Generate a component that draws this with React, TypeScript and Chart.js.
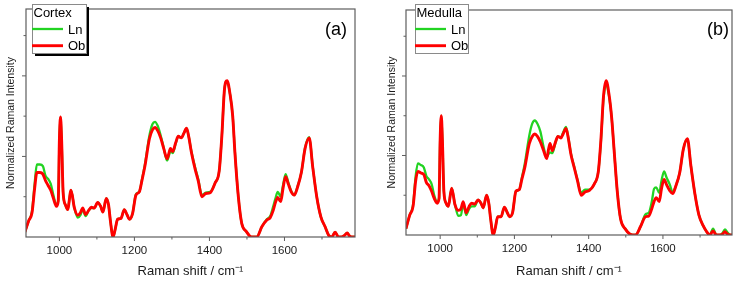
import React, { useEffect, useRef } from "react";
import { Chart, registerables } from "chart.js";

Chart.register(...registerables);

// Raman shift positions (cm^-1) shared by every spectrum
const shift = [
  908, 918, 927, 934, 940, 948, 956, 963, 970, 977,
  984, 992, 997, 1000, 1003, 1006, 1010, 1016, 1022, 1031,
  1040, 1049, 1056, 1062, 1070, 1078, 1085, 1093, 1102, 1110,
  1116, 1125, 1131, 1136, 1143, 1149, 1155, 1164, 1173, 1180,
  1187, 1195, 1204, 1213, 1220, 1228, 1240, 1248, 1255, 1262,
  1270, 1278, 1287, 1292, 1296, 1302, 1310, 1317, 1325, 1332,
  1339, 1345, 1352, 1362, 1370, 1380, 1390, 1402, 1415, 1426,
  1433, 1440, 1447, 1455, 1462, 1468, 1477, 1486, 1498, 1512,
  1526, 1540, 1553, 1562, 1570, 1576, 1582, 1590, 1596, 1603,
  1610, 1618, 1626, 1635, 1645, 1655, 1666, 1675, 1686, 1697,
  1708, 1718, 1726, 1735, 1744, 1752, 1760, 1767, 1774, 1782,
  1790,
];

const cortexLn = [
  0.06, 0.20, 0.32, 0.66, 0.90, 0.90, 0.88, 0.76, 0.72, 0.66,
  0.52, 0.40, 0.45, 1.20, 1.49, 1.20, 0.55, 0.40, 0.34, 0.58,
  0.36, 0.24, 0.27, 0.34, 0.26, 0.33, 0.36, 0.36, 0.43, 0.38,
  0.31, 0.48, 0.40, 0.20, 0.00, 0.10, 0.22, 0.23, 0.34, 0.28,
  0.22, 0.29, 0.53, 0.56, 0.71, 0.90, 1.26, 1.40, 1.43, 1.38,
  1.26, 1.11, 0.95, 1.01, 1.07, 1.04, 1.16, 1.25, 1.23, 1.29,
  1.35, 1.24, 1.06, 0.86, 0.72, 0.52, 0.55, 0.56, 0.67, 0.82,
  1.25, 1.83, 1.93, 1.77, 1.50, 1.05, 0.50, 0.17, 0.07, 0.00,
  0.00, 0.13, 0.22, 0.26, 0.38, 0.48, 0.56, 0.50, 0.64, 0.78,
  0.68, 0.57, 0.52, 0.63, 0.80, 1.11, 1.24, 0.89, 0.50, 0.25,
  0.13, 0.02, 0.00, 0.06, 0.00, 0.00, 0.02, 0.05, 0.01, 0.00,
  0.00,
];

const cortexOb = [
  0.06, 0.20, 0.30, 0.60, 0.80, 0.80, 0.78, 0.70, 0.64, 0.58,
  0.48, 0.38, 0.45, 1.20, 1.49, 1.20, 0.55, 0.40, 0.34, 0.58,
  0.36, 0.27, 0.30, 0.36, 0.28, 0.33, 0.37, 0.36, 0.43, 0.38,
  0.31, 0.48, 0.40, 0.20, 0.00, 0.10, 0.22, 0.23, 0.34, 0.28,
  0.22, 0.29, 0.52, 0.56, 0.70, 0.88, 1.22, 1.33, 1.36, 1.32,
  1.23, 1.10, 0.97, 1.04, 1.10, 1.06, 1.17, 1.25, 1.23, 1.29,
  1.35, 1.24, 1.05, 0.84, 0.70, 0.50, 0.54, 0.55, 0.67, 0.82,
  1.25, 1.83, 1.94, 1.77, 1.50, 1.04, 0.50, 0.17, 0.07, 0.00,
  0.00, 0.13, 0.21, 0.24, 0.33, 0.43, 0.49, 0.44, 0.60, 0.75,
  0.66, 0.56, 0.52, 0.62, 0.80, 1.10, 1.23, 0.88, 0.50, 0.25,
  0.13, 0.02, 0.00, 0.06, 0.00, 0.00, 0.02, 0.05, 0.01, 0.00,
  0.00,
];

const medullaLn = [
  0.08, 0.25, 0.38, 0.74, 0.90, 0.88, 0.85, 0.74, 0.70, 0.64,
  0.50, 0.42, 0.46, 1.20, 1.50, 1.20, 0.55, 0.40, 0.36, 0.59,
  0.38, 0.24, 0.25, 0.40, 0.25, 0.33, 0.36, 0.36, 0.44, 0.40,
  0.34, 0.50, 0.40, 0.20, 0.00, 0.10, 0.23, 0.23, 0.35, 0.29,
  0.23, 0.28, 0.55, 0.57, 0.72, 0.90, 1.25, 1.40, 1.44, 1.40,
  1.30, 1.12, 0.98, 1.02, 1.04, 1.03, 1.15, 1.24, 1.23, 1.30,
  1.36, 1.23, 1.03, 0.84, 0.69, 0.53, 0.57, 0.57, 0.64, 0.80,
  1.18, 1.72, 1.89, 1.74, 1.47, 1.10, 0.55, 0.20, 0.08, 0.01,
  0.00, 0.11, 0.26, 0.28, 0.42, 0.58, 0.60, 0.53, 0.68, 0.80,
  0.72, 0.64, 0.54, 0.62, 0.78, 1.08, 1.21, 0.88, 0.52, 0.25,
  0.12, 0.04, 0.00, 0.08, 0.00, 0.00, 0.02, 0.07, 0.03, 0.00,
  0.00,
];

const medullaOb = [
  0.08, 0.25, 0.36, 0.68, 0.80, 0.78, 0.76, 0.66, 0.62, 0.55,
  0.46, 0.40, 0.46, 1.20, 1.50, 1.20, 0.55, 0.40, 0.36, 0.59,
  0.38, 0.31, 0.33, 0.42, 0.28, 0.36, 0.40, 0.39, 0.44, 0.40,
  0.34, 0.50, 0.40, 0.20, 0.00, 0.10, 0.23, 0.23, 0.35, 0.29,
  0.23, 0.28, 0.55, 0.57, 0.70, 0.85, 1.15, 1.24, 1.27, 1.24,
  1.17, 1.07, 0.96, 1.08, 1.15, 1.06, 1.16, 1.24, 1.22, 1.28,
  1.34, 1.22, 1.02, 0.83, 0.68, 0.50, 0.54, 0.56, 0.64, 0.80,
  1.20, 1.75, 1.94, 1.76, 1.47, 1.10, 0.55, 0.20, 0.08, 0.01,
  0.00, 0.11, 0.23, 0.24, 0.33, 0.42, 0.47, 0.42, 0.58, 0.70,
  0.63, 0.56, 0.52, 0.62, 0.78, 1.08, 1.21, 0.88, 0.52, 0.25,
  0.12, 0.04, 0.00, 0.05, 0.00, 0.00, 0.01, 0.04, 0.01, 0.00,
  0.00,
];

const seriesNames = ["Ln", "Ob"];
const xLabelTicks = [1000, 1200, 1400, 1600];
const xMinorTicks = [1100, 1300, 1500, 1700];
const yMajorTicks = [1, 2];
const yMinorTicks = [0.5, 1.5, 2.5];
const Y_MAX = 2.83;

const FONT = "'Liberation Sans', Arial, Helvetica, sans-serif";
const GREEN = "#22d322";
const RED = "#ff0000";
const FRAME = "#5e5e5e";
const TEXT = "#1a1a1a";

// Draws the boxed frame, outward minor/major ticks, inset legend and panel tag
const panelDecor = {
  id: "panelDecor",
  afterDraw(chart: any, _args: any, opts: any) {
    const { ctx, chartArea: a, scales } = chart;
    const xs = scales.x;
    const ys = scales.y;
    ctx.save();

    ctx.strokeStyle = FRAME;
    ctx.lineWidth = 1.2;
    ctx.strokeRect(a.left, a.top, a.right - a.left, a.bottom - a.top);

    const seg = (x1: number, y1: number, x2: number, y2: number) => {
      ctx.beginPath();
      ctx.moveTo(x1, y1);
      ctx.lineTo(x2, y2);
      ctx.stroke();
    };
    ctx.lineWidth = 1;
    xLabelTicks.forEach((v) => {
      const p = xs.getPixelForValue(v);
      seg(p, a.bottom, p, a.bottom + 4);
    });
    xMinorTicks.forEach((v) => {
      const p = xs.getPixelForValue(v);
      seg(p, a.bottom, p, a.bottom + 2.5);
    });
    yMajorTicks.forEach((v) => {
      const p = ys.getPixelForValue(v);
      seg(a.left, p, a.left - 4, p);
    });
    yMinorTicks.forEach((v) => {
      const p = ys.getPixelForValue(v);
      seg(a.left, p, a.left - 2.5, p);
    });

    // inset legend
    const { bx, by, bw, bh, shadow, title, tag, tagX } = opts;
    if (shadow) {
      ctx.fillStyle = "#000";
      ctx.fillRect(bx + 3, by + 3, bw, bh);
    }
    ctx.fillStyle = "#fff";
    ctx.fillRect(bx, by, bw, bh);
    ctx.strokeStyle = "#8a8a8a";
    ctx.lineWidth = 1;
    ctx.strokeRect(bx + 0.5, by + 0.5, bw, bh);

    ctx.fillStyle = "#000";
    ctx.font = `13px ${FONT}`;
    ctx.textAlign = "left";
    ctx.textBaseline = "alphabetic";
    ctx.fillText(title, bx + 1.5, by + 13);

    [0, 1].forEach((i) => {
      const ds = chart.data.datasets[i];
      const ly = by + 25 + i * 16.7;
      ctx.strokeStyle = ds.borderColor;
      ctx.lineWidth = ds.borderWidth;
      seg(bx, ly, bx + 31, ly);
      ctx.fillStyle = "#000";
      ctx.fillText(ds.label, bx + 36, ly + 4.5);
    });

    ctx.font = `18px ${FONT}`;
    ctx.fillStyle = "#000";
    ctx.fillText(tag, tagX, 35);
    ctx.restore();
  },
};

type PanelProps = {
  ln: number[];
  ob: number[];
  xMin: number;
  xMax: number;
  yAxisWidth: number;
  yTitlePad: number;
  pad: { top: number; right: number };
  xAxisHeight: number;
  legend: any;
};

function Panel(props: PanelProps) {
  const ref = useRef<HTMLCanvasElement | null>(null);

  useEffect(() => {
    if (!ref.current) return;
    const { ln, ob, xMin, xMax, yAxisWidth, yTitlePad, pad, xAxisHeight, legend } = props;
    const chart = new Chart(ref.current, {
      type: "line",
      data: {
        datasets: [
          {
            label: seriesNames[0],
            data: shift.map((x, i) => ({ x, y: ln[i] })),
            borderColor: GREEN,
            borderWidth: 2.3,
            pointRadius: 0,
            cubicInterpolationMode: "monotone",
            order: 2,
          },
          {
            label: seriesNames[1],
            data: shift.map((x, i) => ({ x, y: ob[i] })),
            borderColor: RED,
            borderWidth: 2.9,
            pointRadius: 0,
            cubicInterpolationMode: "monotone",
            order: 1,
          },
        ],
      },
      options: {
        animation: false,
        responsive: true,
        maintainAspectRatio: false,
        layout: { padding: { left: 0, top: pad.top, right: pad.right, bottom: 0 } },
        plugins: {
          legend: { display: false },
          tooltip: { enabled: false },
          panelDecor: legend,
        } as any,
        scales: {
          x: {
            type: "linear",
            min: xMin,
            max: xMax,
            grid: { display: false, drawTicks: false },
            border: { display: false },
            afterBuildTicks: (s: any) => {
              s.ticks = xLabelTicks.map((value) => ({ value }));
            },
            afterFit: (s: any) => {
              s.height = xAxisHeight;
            },
            ticks: {
              padding: 7,
              color: TEXT,
              font: { family: FONT, size: 11.5 },
              maxRotation: 0,
              callback: (v: any) => String(v),
            },
            title: {
              display: true,
              text: "Raman shift / cm\u207B\u00B9",
              color: TEXT,
              font: { family: FONT, size: 13 },
              padding: { top: 0, bottom: 3 },
            },
          },
          y: {
            type: "linear",
            min: 0,
            max: Y_MAX,
            grid: { display: false, drawTicks: false },
            border: { display: false },
            ticks: { display: false },
            afterFit: (s: any) => {
              s.width = yAxisWidth;
            },
            title: {
              display: true,
              text: "Normalized Raman Intensity",
              color: TEXT,
              font: { family: FONT, size: 10.5 },
              padding: { top: yTitlePad, bottom: 0 },
            },
          },
        },
      },
      plugins: [panelDecor],
    });
    return () => chart.destroy();
  }, []);

  return (
    <div style={{ position: "relative", width: 369, height: 282 }}>
      <canvas ref={ref} />
    </div>
  );
}

export default function App() {
  return (
    <div
      style={{
        position: "fixed",
        left: 0,
        top: 0,
        width: 738,
        height: 282,
        display: "flex",
        background: "#fff",
      }}
    >
      <Panel
        ln={cortexLn}
        ob={cortexOb}
        xMin={911}
        xMax={1788}
        yAxisWidth={26}
        yTitlePad={5}
        pad={{ top: 9, right: 14 }}
        xAxisHeight={45}
        legend={{ bx: 32, by: 4, bw: 54, bh: 49, shadow: true, title: "Cortex", tag: "(a)", tagX: 325 }}
      />
      <Panel
        ln={medullaLn}
        ob={medullaOb}
        xMin={908}
        xMax={1786}
        yAxisWidth={37}
        yTitlePad={17}
        pad={{ top: 10, right: 6 }}
        xAxisHeight={47}
        legend={{ bx: 46, by: 4, bw: 53, bh: 49, shadow: false, title: "Medulla", tag: "(b)", tagX: 338 }}
      />
    </div>
  );
}
